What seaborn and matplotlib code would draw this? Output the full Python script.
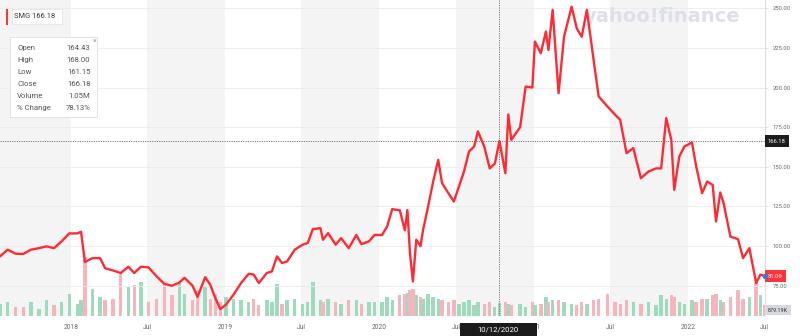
import matplotlib
matplotlib.use("Agg")
import matplotlib.pyplot as plt
import matplotlib.transforms as mtrans
from matplotlib.patches import FancyBboxPatch, Rectangle
import pandas as pd
import seaborn as sns

# ---------------- data ----------------
dates = [
    "2017-07-17", "2017-08-04", "2017-08-23", "2017-09-10", "2017-09-28", "2017-10-17", "2017-11-04", "2017-11-22", "2017-12-10", "2017-12-28",
    "2018-01-16", "2018-01-25", "2018-02-03", "2018-02-21", "2018-03-11", "2018-03-23", "2018-04-11", "2018-04-29", "2018-05-17", "2018-05-31",
    "2018-06-16", "2018-07-04", "2018-07-23", "2018-08-10", "2018-08-28", "2018-09-15", "2018-09-27", "2018-10-16", "2018-10-28", "2018-11-15",
    "2018-11-27", "2018-12-09", "2018-12-21", "2019-01-03", "2019-01-21", "2019-02-08", "2019-02-26", "2019-03-10", "2019-03-22", "2019-04-10",
    "2019-04-22", "2019-05-04", "2019-05-16", "2019-05-28", "2019-06-15", "2019-07-04", "2019-07-16", "2019-07-28", "2019-08-15", "2019-08-21",
    "2019-09-02", "2019-09-20", "2019-10-03", "2019-10-21", "2019-11-08", "2019-11-20", "2019-12-08", "2019-12-21", "2020-01-08", "2020-01-20",
    "2020-02-01", "2020-02-19", "2020-03-02", "2020-03-08", "2020-03-14", "2020-03-21", "2020-03-29", "2020-04-08", "2020-04-14", "2020-04-26",
    "2020-05-08", "2020-05-20", "2020-05-29", "2020-06-13", "2020-06-26", "2020-07-08", "2020-07-20", "2020-08-01", "2020-08-13", "2020-08-22",
    "2020-09-06", "2020-09-19", "2020-10-01", "2020-10-12", "2020-10-26", "2020-11-02", "2020-11-09", "2020-11-30", "2020-12-13", "2020-12-29",
    "2021-01-04", "2021-01-18", "2021-01-30", "2021-02-05", "2021-02-15", "2021-03-01", "2021-03-14", "2021-04-01", "2021-04-13", "2021-04-25",
    "2021-05-07", "2021-05-23", "2021-06-04", "2021-06-25", "2021-07-13", "2021-07-25", "2021-08-09", "2021-08-25", "2021-09-12", "2021-09-30",
    "2021-10-18", "2021-10-30", "2021-11-11", "2021-11-23", "2021-11-30", "2021-12-12", "2021-12-24", "2022-01-11", "2022-01-21", "2022-02-04",
    "2022-02-16", "2022-03-01", "2022-03-09", "2022-03-19", "2022-03-27", "2022-04-12", "2022-04-30", "2022-05-12", "2022-05-27", "2022-06-12",
    "2022-06-22", "2022-07-03",
]
close = [
    93.5, 97.7, 95.2, 95.0, 97.7, 98.7, 99.8, 98.7, 103.0, 108.0,
    108.0, 109.0, 90.0, 92.4, 92.4, 86.0, 84.6, 83.0, 87.0, 83.0,
    87.0, 86.5, 80.9, 76.2, 75.0, 77.0, 80.0, 75.0, 68.0, 80.4,
    75.6, 67.2, 60.3, 63.0, 69.3, 76.7, 82.5, 82.0, 76.7, 83.0,
    84.0, 93.5, 89.3, 90.3, 97.7, 100.9, 102.0, 110.7, 111.3, 104.0,
    108.2, 100.9, 105.0, 98.7, 107.0, 101.2, 103.0, 107.0, 107.0, 112.4,
    123.3, 122.5, 110.0, 122.7, 95.6, 77.7, 104.0, 100.0, 110.0, 125.0,
    140.7, 154.4, 139.7, 133.4, 128.1, 137.6, 147.0, 159.7, 162.8, 172.3,
    162.8, 149.0, 152.0, 166.18, 146.0, 183.0, 167.0, 175.0, 200.6, 200.0,
    229.0, 221.6, 235.3, 223.7, 249.0, 196.4, 232.1, 251.0, 237.4, 232.0,
    249.0, 217.4, 194.3, 188.0, 182.8, 179.6, 158.6, 161.8, 142.8, 147.0,
    149.0, 149.0, 180.7, 167.0, 135.5, 156.5, 162.8, 165.3, 150.2, 133.4,
    140.7, 138.6, 115.5, 133.8, 127.0, 106.0, 104.4, 92.4, 98.7, 76.7,
    82.0, 81.09,
]
volume_m = [
    1.0, 1.15, 0.75, 0.75, 1.15, 0.6, 1.3, 0.9, 1.15, 1.8,
    1.0, 1.3, 4.7, 2.2, 1.55, 1.3, 1.4, 3.4, 2.35, 2.5,
    2.75, 1.15, 1.4, 2.6, 1.7, 2.75, 1.8, 1.3, 2.1, 2.35,
    1.4, 1.8, 1.15, 1.55, 1.4, 1.3, 1.15, 1.4, 0.9, 1.3,
    1.15, 2.6, 1.0, 1.3, 1.4, 1.0, 1.15, 2.75, 1.3, 1.15,
    1.4, 1.15, 1.0, 1.3, 1.3, 1.0, 1.15, 1.15, 1.15, 1.55,
    1.3, 1.7, 1.8, 1.85, 2.1, 2.2, 1.7, 1.55, 1.4, 1.8,
    1.55, 1.4, 1.3, 1.15, 1.3, 1.0, 1.15, 1.3, 0.9, 1.15,
    1.0, 1.15, 0.75, 1.05, 1.15, 1.0, 0.9, 1.0, 0.75, 1.15,
    0.9, 1.0, 1.55, 1.15, 1.3, 1.3, 1.15, 1.0, 0.9, 1.15,
    1.0, 1.3, 1.4, 1.8, 1.15, 1.0, 1.3, 1.15, 1.0, 1.15,
    0.9, 1.7, 1.4, 1.7, 1.55, 1.15, 1.0, 1.3, 1.15, 1.4,
    1.4, 1.7, 1.8, 1.3, 1.15, 1.55, 2.1, 1.4, 1.55, 2.75,
    1.7, 0.87919,
]
ytick_values = [75, 100, 125, 150, 175, 200, 225, 250]
xtick_dates = ["2018-01-01", "2018-07-01", "2019-01-01", "2019-07-01", "2020-01-01",
               "2020-07-01", "2021-01-01", "2021-07-01", "2022-01-01", "2022-07-01"]
xtick_labels = ["2018", "Jul", "2019", "Jul", "2020", "Jul", "2021", "Jul", "2022", "Jul"]
band_ranges = [("2017-07-01", "2018-01-01"), ("2018-07-01", "2019-01-01"), ("2019-07-01", "2020-01-01"),
               ("2020-07-01", "2021-01-01"), ("2021-07-01", "2022-01-01")]
ticker = "SMG"
cross_date = "2020-10-12"
cross_open, cross_high, cross_low, cross_close = 164.43, 168.00, 161.15, 166.18
cross_volume = "1.05M"
cross_change = "78.13%"

# ---------------- figure ----------------
sns.set_theme(style="white")
plt.rcParams["font.family"] = ["Roboto", "DejaVu Sans"]

df = pd.DataFrame({"date": pd.to_datetime(dates), "close": close, "volume": volume_m})
df["up"] = df["close"].diff().fillna(1) >= 0

W, H = 800, 336
fig = plt.figure(figsize=(W / 100, H / 100), dpi=100)
rect = [0, 20 / H, 765 / W, 316 / H]
axv = fig.add_axes(rect)
ax = fig.add_axes(rect)
ax.patch.set_visible(False)

xmin, xmax = pd.Timestamp("2017-07-17"), pd.Timestamp("2022-07-03")

# background half-year bands + volume bars
for a, b in band_ranges:
    axv.axvspan(pd.Timestamp(a), pd.Timestamp(b), color="#f4f4f4", lw=0, zorder=0)
bar_colors = ["#9edbbd" if u else "#f7b5bb" for u in df["up"]]
axv.bar(df["date"], df["volume"], width=8, color=bar_colors, linewidth=0, zorder=1)
axv.set_xlim(xmin, xmax)
axv.set_ylim(0, 25.3)
axv.set_xticks([])
axv.set_yticks([])
for s in axv.spines.values():
    s.set_visible(False)

# grid lines
for v in ytick_values:
    ax.axhline(v, color="#ebebeb", lw=0.6, zorder=0.5)

# price line
sns.lineplot(data=df, x="date", y="close", ax=ax, color="#ff2a33", linewidth=1.7, zorder=3)
ax.set_xlim(xmin, xmax)
ax.set_ylim(55.9, 255.2)
ax.set_xlabel("")
ax.set_ylabel("")

ax.set_yticks(ytick_values)
ax.set_yticklabels([f"{v:.2f}" for v in ytick_values])
ax.yaxis.tick_right()
ax.tick_params(axis="y", length=2.5, width=0.5, color="#d8d8d8", pad=3, labelsize=4.2,
               labelcolor="#666666", right=True, left=False)
ax.set_xticks(pd.to_datetime(xtick_dates))
ax.set_xticklabels(xtick_labels)
ax.tick_params(axis="x", length=0, pad=6, labelsize=4.8, labelcolor="#666666")
for k, s in ax.spines.items():
    s.set_visible(k == "right")
ax.spines["right"].set_color("#dedede")
ax.spines["right"].set_linewidth(0.8)

# watermark
ax.text(662 / 765, 1 - 17 / 316, "yahoo!finance", transform=ax.transAxes, ha="center", va="center",
        fontsize=14, fontweight="bold", color="#dde0e6", family="DejaVu Sans", zorder=1)

# crosshair
cd = pd.Timestamp(cross_date)
ax.axvline(cd, color="#777777", lw=0.7, ls=(0, (1.2, 1.2)), zorder=2)
ax.axhline(cross_close, color="#777777", lw=0.7, ls=(0, (1.2, 1.2)), zorder=2)

# right-side value tags
trans = mtrans.blended_transform_factory(ax.transAxes, ax.transData)
ax.text(1.004, cross_close, f"{cross_close:.2f}", transform=trans, fontsize=4.2, color="white",
        ha="left", va="center", clip_on=False, zorder=6,
        bbox=dict(boxstyle="square,pad=0.55", fc="#1c1c1c", ec="none"))
ax.text(1.004, close[-1], f"{close[-1]:.2f}", transform=trans, fontsize=4.2, color="white",
        ha="left", va="center", clip_on=False, zorder=6,
        bbox=dict(boxstyle="square,pad=0.6", fc="#ff333a", ec="none"))
axv.text(1.004, 6 / 316, f"{volume_m[-1] * 1000:.2f}K", transform=axv.transAxes, fontsize=3.9,
         color="#333333", ha="left", va="center", clip_on=False, zorder=6,
         bbox=dict(boxstyle="square,pad=0.5", fc="#d6d8de", ec="none"))
ax.plot([df["date"].iloc[-1]], [close[-1]], "o", color="#2f7de1", ms=3, zorder=7, clip_on=False)

# date tag at bottom
def fx(x):
    return x / W

def fy(y):
    return 1 - y / H

fig.add_artist(Rectangle((fx(460), 0), 77 / W, 13 / H, transform=fig.transFigure,
                         fc="#1b1b1b", ec="none", zorder=5))
fig.text(fx(498.5), fy(330), cross_date[5:7] + "/" + cross_date[8:10] + "/" + cross_date[:4],
         color="white", fontsize=5.6, ha="center", va="center", zorder=6)

# ticker tag top-left
fig.add_artist(FancyBboxPatch((fx(12), fy(24)), 50 / W, 15 / H, boxstyle="square,pad=0",
                              transform=fig.transFigure, fc="white", ec="#e4e4e4", lw=0.6, zorder=5))
fig.add_artist(Rectangle((fx(5.5), fy(24.5)), 2.2 / W, 16 / H, transform=fig.transFigure,
                         fc="#ff333a", ec="none", zorder=6))
fig.text(fx(14), fy(16.5), f"{ticker} {cross_close:.2f}", fontsize=5.4, color="#333333",
         ha="left", va="center", zorder=6)

# OHLC info box
fig.add_artist(FancyBboxPatch((fx(10), fy(117)), 87 / W, 80 / H, boxstyle="square,pad=0",
                              transform=fig.transFigure, fc="white", ec="#e2e2e2", lw=0.7, zorder=5))
info_labels = ["Open", "High", "Low", "Close", "Volume", "% Change"]
info_values = [f"{cross_open:.2f}", f"{cross_high:.2f}", f"{cross_low:.2f}", f"{cross_close:.2f}",
               cross_volume, cross_change]
for i, (lab, val) in enumerate(zip(info_labels, info_values)):
    yy = 48.3 + 12 * i
    fig.text(fx(17), fy(yy), lab, fontsize=5.6, color="#555555", ha="left", va="center", zorder=6)
    fig.text(fx(90.5), fy(yy), val, fontsize=5.6, color="#555555", ha="right", va="center", zorder=6)
fig.text(fx(95), fy(41.5), "×", fontsize=5, color="#999999", ha="center", va="center", zorder=6)

fig.savefig("out.png", dpi=100)
